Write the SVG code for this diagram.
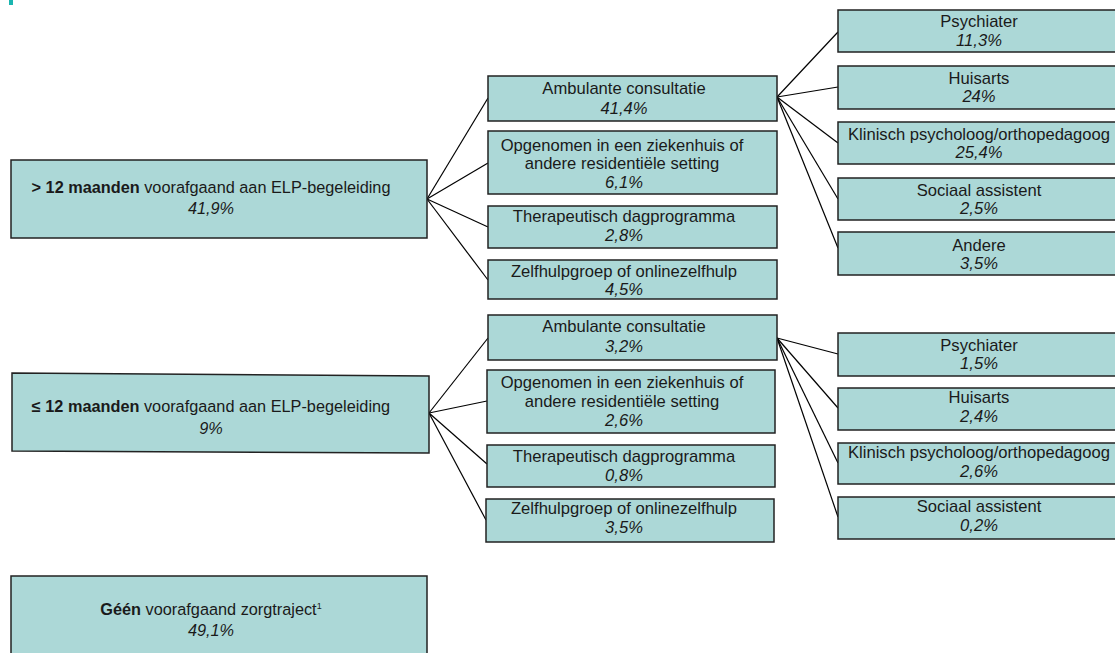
<svg xmlns="http://www.w3.org/2000/svg" width="1115" height="653" viewBox="0 0 1115 653">
<style>
.box{fill:#acd8d7;stroke:#222;stroke-width:1.5}
text{font-family:"Liberation Sans",Arial,sans-serif;font-size:16.6px;fill:#1a1a1a;text-anchor:middle}
.l{font-size:16.3px}
.pct{font-style:italic}
.b{font-weight:bold}
.con line{stroke:#000;stroke-width:1.2}
</style>
<rect x="9" y="0" width="4" height="5" fill="#1ab5b0"/>
<g class="con">
<line x1="427" y1="199" x2="488" y2="98"/>
<line x1="427" y1="199" x2="488" y2="163"/>
<line x1="427" y1="199" x2="488" y2="227"/>
<line x1="427" y1="199" x2="488" y2="280"/>
<line x1="777" y1="97" x2="838" y2="32"/>
<line x1="777" y1="97" x2="838" y2="87"/>
<line x1="777" y1="97" x2="838" y2="143"/>
<line x1="777" y1="97" x2="838" y2="199"/>
<line x1="777" y1="97" x2="838" y2="248"/>
<line x1="429" y1="413" x2="488" y2="338"/>
<line x1="429" y1="413" x2="487" y2="401"/>
<line x1="429" y1="413" x2="487" y2="464"/>
<line x1="429" y1="413" x2="486" y2="520"/>
<line x1="777" y1="338" x2="838" y2="354"/>
<line x1="777" y1="338" x2="838" y2="408"/>
<line x1="777" y1="338" x2="838" y2="463"/>
<line x1="777" y1="338" x2="838" y2="517"/>
</g>
<g id="n-gt12">
<rect class="box" x="11" y="160" width="416" height="78"/>
<text class="l" x="211" y="193"><tspan class="b">&gt; 12 maanden</tspan> voorafgaand aan ELP-begeleiding</text>
<text class="l pct" x="211" y="214">41,9%</text>
</g>
<g id="n-le12">
<polygon class="box" points="12,373 429,376 429,453 12,451"/>
<text class="l" x="211" y="412"><tspan class="b">≤ 12 maanden</tspan> voorafgaand aan ELP-begeleiding</text>
<text class="l pct" x="211" y="434">9%</text>
</g>
<g id="n-geen">
<rect class="box" x="11" y="576" width="416" height="82"/>
<text class="l" x="211" y="615"><tspan class="b">Géén</tspan> voorafgaand zorgtraject<tspan font-size="9" dy="-6">1</tspan></text>
<text class="l pct" x="211" y="636">49,1%</text>
</g>
<g id="n-amb1">
<rect class="box" x="488" y="76" width="289" height="45"/>
<text x="624" y="94">Ambulante consultatie</text>
<text class="pct" x="624" y="114">41,4%</text>
</g>
<g id="n-opg1">
<rect class="box" x="488" y="131" width="289" height="63"/>
<text x="622" y="151">Opgenomen in een ziekenhuis of</text>
<text x="622" y="169">andere residentiële setting</text>
<text class="pct" x="624" y="188">6,1%</text>
</g>
<g id="n-ther1">
<rect class="box" x="488" y="206" width="289" height="42"/>
<text x="624" y="222">Therapeutisch dagprogramma</text>
<text class="pct" x="624" y="241">2,8%</text>
</g>
<g id="n-zelf1">
<rect class="box" x="488" y="260" width="289" height="39"/>
<text x="624" y="277">Zelfhulpgroep of onlinezelfhulp</text>
<text class="pct" x="624" y="295">4,5%</text>
</g>
<g id="n-psy1">
<rect class="box" x="838" y="10" width="282" height="42"/>
<text x="979" y="27">Psychiater</text>
<text class="pct" x="979" y="46">11,3%</text>
</g>
<g id="n-hui1">
<rect class="box" x="838" y="66" width="282" height="43"/>
<text x="979" y="84">Huisarts</text>
<text class="pct" x="979" y="102">24%</text>
</g>
<g id="n-kli1">
<rect class="box" x="838" y="122" width="282" height="42"/>
<text x="979" y="140">Klinisch psycholoog/orthopedagoog</text>
<text class="pct" x="979" y="158">25,4%</text>
</g>
<g id="n-soc1">
<rect class="box" x="838" y="178" width="282" height="42"/>
<text x="979" y="196">Sociaal assistent</text>
<text class="pct" x="979" y="214">2,5%</text>
</g>
<g id="n-and1">
<rect class="box" x="838" y="232" width="282" height="43"/>
<text x="979" y="251">Andere</text>
<text class="pct" x="979" y="269">3,5%</text>
</g>
<g id="n-amb2">
<rect class="box" x="488" y="315" width="289" height="45"/>
<text x="624" y="332">Ambulante consultatie</text>
<text class="pct" x="624" y="352">3,2%</text>
</g>
<g id="n-opg2">
<rect class="box" x="487" y="370" width="288" height="63"/>
<text x="622" y="388">Opgenomen in een ziekenhuis of</text>
<text x="622" y="407">andere residentiële setting</text>
<text class="pct" x="624" y="426">2,6%</text>
</g>
<g id="n-ther2">
<rect class="box" x="487" y="445" width="288" height="42"/>
<text x="624" y="462">Therapeutisch dagprogramma</text>
<text class="pct" x="624" y="481">0,8%</text>
</g>
<g id="n-zelf2">
<rect class="box" x="486" y="499" width="288" height="43"/>
<text x="624" y="514">Zelfhulpgroep of onlinezelfhulp</text>
<text class="pct" x="624" y="533">3,5%</text>
</g>
<g id="n-psy2">
<rect class="box" x="838" y="333" width="282" height="43"/>
<text x="979" y="351">Psychiater</text>
<text class="pct" x="979" y="369">1,5%</text>
</g>
<g id="n-hui2">
<rect class="box" x="838" y="388" width="282" height="42"/>
<text x="979" y="403">Huisarts</text>
<text class="pct" x="979" y="422">2,4%</text>
</g>
<g id="n-kli2">
<rect class="box" x="838" y="443" width="282" height="41"/>
<text x="979" y="458">Klinisch psycholoog/orthopedagoog</text>
<text class="pct" x="979" y="477">2,6%</text>
</g>
<g id="n-soc2">
<rect class="box" x="838" y="497" width="282" height="42"/>
<text x="979" y="512">Sociaal assistent</text>
<text class="pct" x="979" y="531">0,2%</text>
</g>
</svg>
